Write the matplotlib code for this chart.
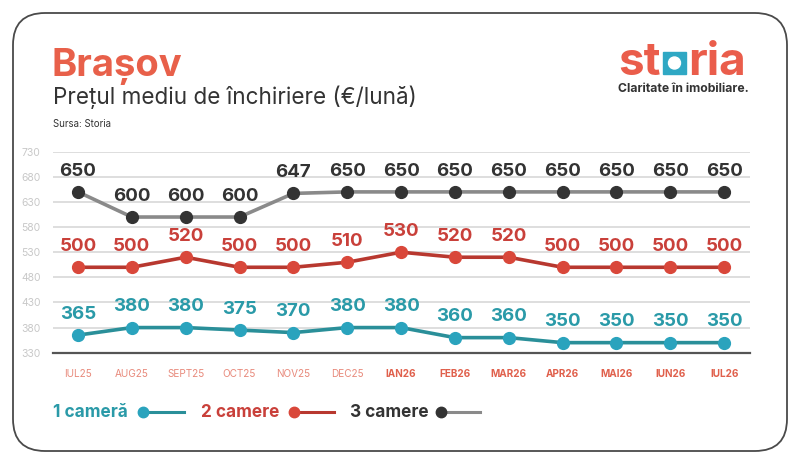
import matplotlib
matplotlib.use("Agg")
import matplotlib.pyplot as plt
from matplotlib.patches import FancyBboxPatch, Rectangle, Ellipse
from matplotlib.lines import Line2D

months = ["IUL25", "AUG25", "SEPT25", "OCT25", "NOV25", "DEC25", "IAN26",
          "FEB26", "MAR26", "APR26", "MAI26", "IUN26", "IUL26"]
cam1 = [365, 380, 380, 375, 370, 380, 380, 360, 360, 350, 350, 350, 350]
cam2 = [500, 500, 520, 500, 500, 510, 530, 520, 520, 500, 500, 500, 500]
cam3 = [650, 600, 600, 600, 647, 650, 650, 650, 650, 650, 650, 650, 650]
yticks = [330, 380, 430, 480, 530, 580, 630, 680, 730]
series_names = ["1 cameră", "2 camere", "3 camere"]

plt.rcParams['font.family'] = ['Inter', 'DejaVu Sans']

W, H = 800, 463
fig = plt.figure(figsize=(8, 4.63), dpi=100)
fig.patch.set_facecolor("white")

def fx(px):
    return px / W
def fy(py):
    return 1 - py / H

# frame
frame = FancyBboxPatch((fx(13), fy(451)), fx(774), 438 / H,
                       boxstyle="round,pad=0,rounding_size=0.04",
                       transform=fig.transFigure, fill=False,
                       edgecolor="#4a4a4a", linewidth=1.3,
                       mutation_aspect=W / H)
fig.patches.append(frame)

ax = fig.add_axes([fx(53), fy(352.7), fx(750 - 53), (352.7 - 151.7) / H])
ax.set_facecolor("none")
x = list(range(len(months)))

c1_line, c1_mark, c1_txt = "#2a8f99", "#2aa3bd", "#2a9aa8"
c2_line, c2_mark, c2_txt = "#b8382f", "#d9473a", "#c9403a"
c3_line, c3_mark, c3_txt = "#8a8a8a", "#333333", "#333333"

for vals, lc, mc, tc in [(cam3, c3_line, c3_mark, c3_txt),
                         (cam2, c2_line, c2_mark, c2_txt),
                         (cam1, c1_line, c1_mark, c1_txt)]:
    ax.plot(x, vals, color=lc, lw=2.6, zorder=3)
    ax.plot(x, vals, 'o', color=mc, ms=8.5, zorder=4)
    for xi, v in zip(x, vals):
        ax.annotate(str(v), (xi, v), xytext=(0, 15), textcoords="offset points",
                    ha="center", va="center", fontsize=13.5, fontweight="bold",
                    color=tc, zorder=5)

ax.set_xlim(-0.464, 12.48)
ax.set_ylim(330, 730)
ax.set_yticks(yticks)
ax.grid(axis="y", color="#dedede", lw=1.4)
ax.set_axisbelow(True)
for s in ["top", "right", "left"]:
    ax.spines[s].set_visible(False)
ax.spines["bottom"].set_color("#555555")
ax.spines["bottom"].set_linewidth(1.6)
ax.tick_params(axis="y", length=0, labelsize=7.5, labelcolor="#c8c8c8", pad=9)
ax.tick_params(axis="x", length=0, pad=12)
ax.set_xticks(x)
ax.set_xticklabels(months)
for lab, m in zip(ax.get_xticklabels(), months):
    if m.endswith("26"):
        lab.set_color("#e0604c")
        lab.set_fontweight("bold")
    else:
        lab.set_color("#e88a7c")
    lab.set_fontsize(7.2)

# titles
fig.text(fx(52), fy(76), "Brașov", fontsize=27.5, fontweight="bold",
         color="#e8604a", va="baseline", ha="left")
fig.text(fx(53), fy(104), "Prețul mediu de închiriere (€/lună)", fontsize=16.2,
         color="#333333", va="baseline", ha="left")
fig.text(fx(53), fy(127), "Sursa: Storia", fontsize=7, color="#333333",
         va="baseline", ha="left")

# logo
coral = "#ea5d4b"
fig.text(fx(661), fy(75), "st", fontsize=33, fontweight="bold", color=coral,
         ha="right", va="baseline")
fig.text(fx(688), fy(75), "ria", fontsize=33, fontweight="bold", color=coral,
         ha="left", va="baseline")
fig.patches.append(Rectangle((fx(663), fy(74)), fx(23), 22 / H,
                             transform=fig.transFigure, color="#2fa8c4"))
fig.patches.append(Ellipse((fx(674.5), fy(63)), fx(12), 12 / H,
                   transform=fig.transFigure, color="white"))
fig.text(fx(683), fy(92), "Claritate în imobiliare.", fontsize=8.8,
         fontweight="bold", color="#333333", ha="center", va="baseline")

# legend
legend_items = [
    (series_names[0], 53, 143, 184, c1_txt, c1_mark, c1_line),
    (series_names[1], 201, 294, 334, c2_txt, c2_mark, c2_line),
    (series_names[2], 350, 441, 480, c3_txt, c3_mark, c3_line),
]
for name, tx, mx, lx, tc, mc, lc in legend_items:
    fig.text(fx(tx), fy(417), name, fontsize=12.4, fontweight="bold", color=tc,
             ha="left", va="baseline")
    fig.lines.append(Line2D([fx(mx), fx(lx)], [fy(412), fy(412)],
                            transform=fig.transFigure, color=lc, lw=2.2))
    fig.lines.append(Line2D([fx(mx)], [fy(412)], transform=fig.transFigure,
                            marker="o", ms=7.5, color=mc))

fig.savefig("out.png", dpi=100, facecolor="white")
